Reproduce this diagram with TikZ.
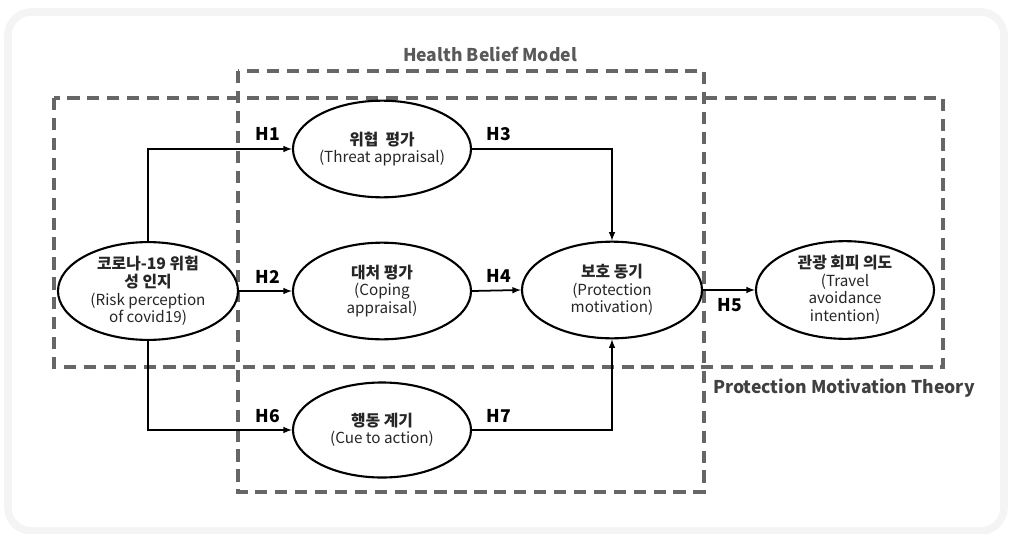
\documentclass[tikz,border=0pt]{standalone}
\usepackage{fontspec}
\setmainfont{Noto Sans CJK KR}
\usepackage{xcolor}
\usetikzlibrary{shapes.geometric,arrows,positioning}

\definecolor{boxgray}{HTML}{666666}
\definecolor{titlegray}{HTML}{595959}
\definecolor{framegray}{HTML}{F4F4F4}
\definecolor{textdark}{HTML}{262626}

\newcommand{\kor}[1]{{\bfseries\fontsize{13.5}{15}\selectfont #1}}

\begin{document}
\begin{tikzpicture}[x=0.03cm, y=-0.03cm,
    construct/.style={draw, ellipse, fill=white, line width=1.8pt, inner sep=0pt,
        minimum width=5.34cm, minimum height=2.9cm, align=center,
        text=textdark, font=\fontsize{13}{15}\selectfont},
    hyp/.style={font=\fontsize{15}{18}\selectfont\bfseries},
    link/.style={-latex, line width=1.5pt},
    theorybox/.style={draw=boxgray, line width=3pt, dash pattern=on 10.5pt off 6.5pt},
    theoryname/.style={text=titlegray, font=\fontsize{15}{18}\selectfont\bfseries}]
    \useasboundingbox (0,0) rectangle (1011,534);

    % Rahmen
    \draw[framegray, line width=6.5pt, rounded corners=20pt] (8,12) rectangle (1004,531);

    % Theorien
    \draw[theorybox] (238,71) rectangle (704,492);
    \draw[theorybox] (54,98) rectangle (943,367);
    \node[theoryname] (hbm) at (490,54) {Health Belief Model};
    \node[theoryname, text=black!75] (pmt) at (844,388) {Protection Motivation Theory};

    % Konstrukte
    \node[construct, minimum width=5.4cm, minimum height=2.64cm] (risk) at (148,291)
        {\kor{코로나-19 위험}\\\kor{성 인지}\\(Risk perception\\of covid19)};
    \node[construct] (threat) at (382,149) {\kor{위협~~평가}\\(Threat appraisal)};
    \node[construct] (coping) at (382,291) {\kor{대처 평가}\\(Coping\\appraisal)};
    \node[construct, minimum width=5.4cm] (prot) at (612,290) {\kor{보호 동기}\\(Protection\\motivation)};
    \node[construct] (travel) at (845,290) {\kor{관광 회피 의도}\\(Travel\\avoidance\\intention)};
    \node[construct, minimum height=2.85cm] (cue) at (382,430) {\kor{행동 계기}\\(Cue to action)};

    % Pfade
    \draw[link] (risk.north) |- (threat.west);
    \draw[link] (risk.east) -- (coping.west);
    \draw[link] (risk.south) |- (cue.west);
    \draw[link] (threat.east) -| (prot.north);
    \draw[link] (coping.east) -- (prot.west);
    \draw[link] (cue.east) -| (prot.south);
    \draw[link] (prot.east) -- (travel.west);

    % Hypothesen
    \node[hyp] (h1) at (268,134) {H1};
    \node[hyp] (h2) at (268,277) {H2};
    \node[hyp] (h6) at (268,416) {H6};
    \node[hyp] (h3) at (499,134) {H3};
    \node[hyp] (h4) at (499,276) {H4};
    \node[hyp] (h7) at (499,416) {H7};
    \node[hyp] (h5) at (730,305) {H5};
\end{tikzpicture}
\end{document}
